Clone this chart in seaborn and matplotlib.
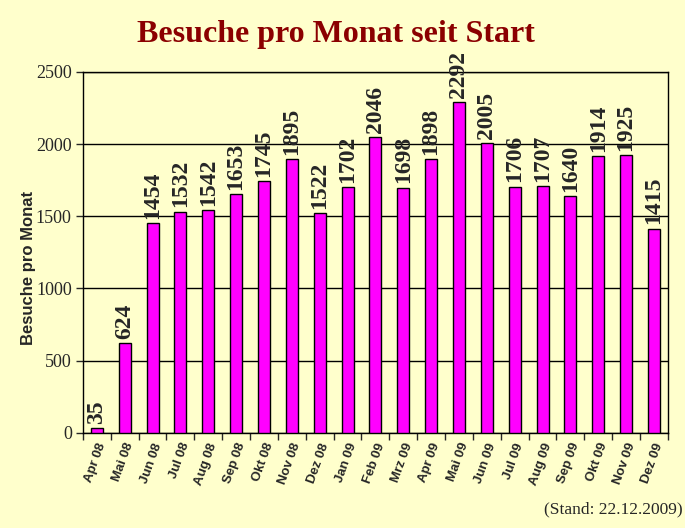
import pandas as pd
import matplotlib.pyplot as plt
import seaborn as sns
from matplotlib.ticker import FixedLocator, MultipleLocator

# ---------------------------------------------------------
# Data
# ---------------------------------------------------------
months = [
    "Apr 08", "Mai 08", "Jun 08", "Jul 08", "Aug 08", "Sep 08", "Okt 08",
    "Nov 08", "Dez 08", "Jan 09", "Feb 09", "Mrz 09", "Apr 09", "Mai 09",
    "Jun 09", "Jul 09", "Aug 09", "Sep 09", "Okt 09", "Nov 09", "Dez 09",
]
visits = [
    35, 624, 1454, 1532, 1542, 1653, 1745, 1895, 1522, 1702, 2046,
    1698, 1898, 2292, 2005, 1706, 1707, 1640, 1914, 1925, 1415,
]

df = pd.DataFrame({"Monat": months, "Besuche": visits})

bg = "#FFFFCC"
sns.set_style("white")
plt.rcParams["font.family"] = ["Liberation Sans", "DejaVu Sans"]

fig = plt.figure(figsize=(6.85, 5.28), dpi=100, facecolor=bg)
ax = fig.add_axes([0.121, 0.180, 0.854, 0.684])
ax.set_facecolor(bg)

sns.barplot(data=df, x="Monat", y="Besuche", color="#FF00FF",
            edgecolor="black", linewidth=1.0, width=0.43, saturation=1,
            ax=ax, zorder=3)

# value labels
ax.bar_label(ax.containers[0], labels=[str(v) for v in visits],
             rotation=90, padding=3, fontsize=17, fontweight="bold",
             family="Liberation Serif", zorder=4)

ax.set_ylim(0, 2500)
ax.set_xlim(-0.5, len(months) - 0.5)
ax.yaxis.set_major_locator(MultipleLocator(500))
ax.grid(axis="y", color="black", linewidth=1.0, zorder=0)
ax.grid(axis="x", visible=False)

for s in ax.spines.values():
    s.set_color("black")
    s.set_linewidth(1.0)
    s.set_visible(True)

# y ticks
ax.tick_params(axis="y", direction="out", length=5, width=1, left=True,
               labelsize=13, pad=3)
for lab in ax.get_yticklabels():
    lab.set_family("Liberation Serif")

# x ticks between categories
ax.xaxis.set_minor_locator(FixedLocator([i - 0.5 for i in range(len(months) + 1)]))
ax.tick_params(axis="x", which="minor", direction="out", length=5, width=1, bottom=True)
ax.tick_params(axis="x", which="major", length=0, pad=6)
ax.set_xticks(range(len(months)))
ax.set_xticklabels(months, rotation=70, ha="right", rotation_mode="anchor",
                   fontsize=9.5, fontweight="bold")

ax.set_xlabel("")
ax.set_ylabel("Besuche pro Monat", fontsize=12, fontweight="bold")
ax.yaxis.set_label_coords(-0.08, 0.457)

fig.text(0.49, 0.935, "Besuche pro Monat seit Start", ha="center", va="center",
         fontsize=23, fontweight="bold", color="#8B0000",
         family="Liberation Serif")
fig.text(0.997, 0.035, "(Stand: 22.12.2009)", ha="right", va="center",
         fontsize=12.5, family="Liberation Serif")

fig.savefig("out.png", dpi=100, facecolor=bg)
